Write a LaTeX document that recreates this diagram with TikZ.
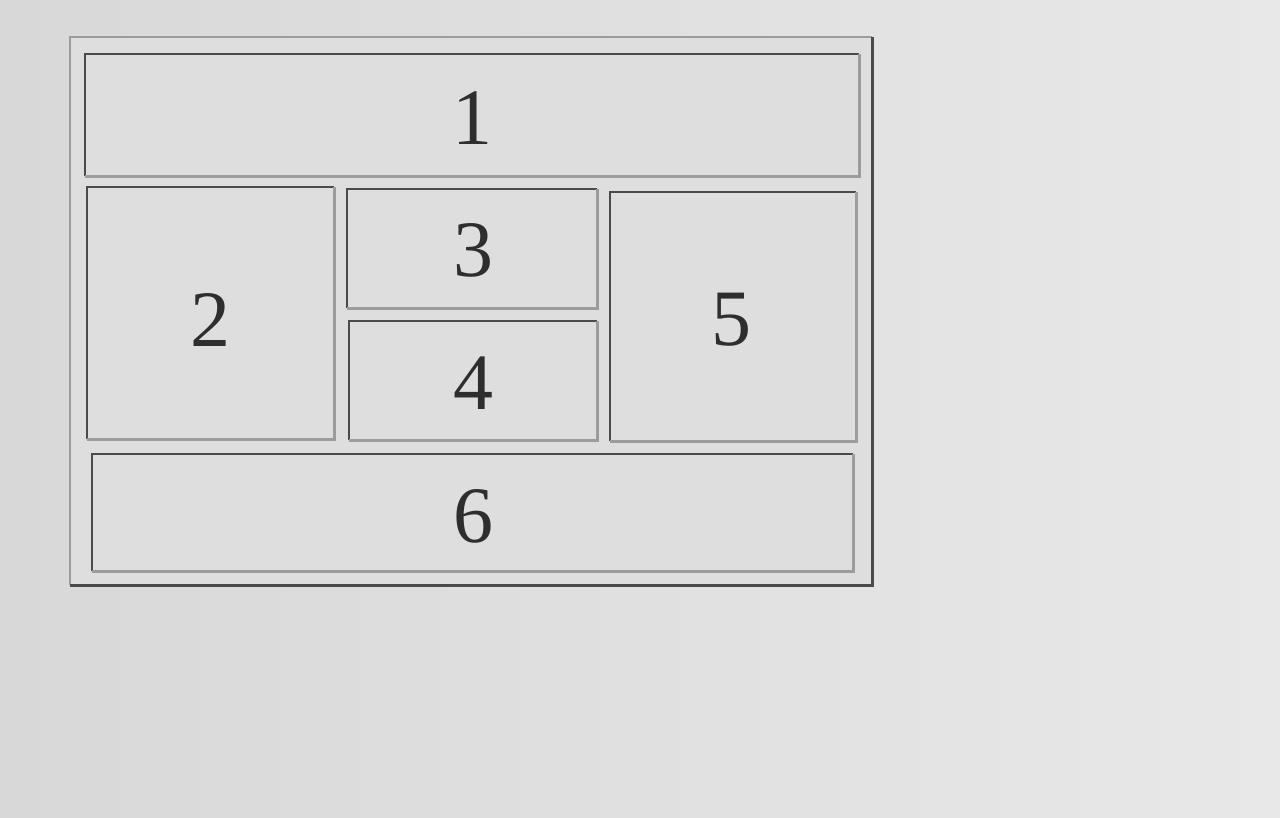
\documentclass[tikz,border=0pt]{standalone}
\usepackage{fontspec}
\setmainfont{Liberation Serif}
\definecolor{bgL}{HTML}{D8D8D8}
\definecolor{bgR}{HTML}{E8E8E8}
\definecolor{cellfill}{HTML}{DEDEDE}
\definecolor{darkline}{HTML}{4A4A4A}
\definecolor{lightline}{HTML}{9C9C9C}
\definecolor{numcol}{HTML}{2E2E2E}
\tikzset{
  cell/.style={rectangle, draw=none, fill=cellfill, inner sep=0pt, anchor=north west},
  dk/.style={draw=darkline, line width=2.6pt},
  lt/.style={draw=lightline, line width=2.4pt},
  num/.style={inner sep=0pt, text=numcol, font=\fontsize{80}{80}\selectfont}
}
\begin{document}
\begin{tikzpicture}[x=1pt,y=-1pt]
\shade[left color=bgL, right color=bgR] (0,0) rectangle (1280,817);
\useasboundingbox (0,0) rectangle (1280,817);
% outer table
\node[cell, minimum width=802pt, minimum height=548pt] (tab) at (70,37) {};
\draw[lt] (tab.south west) -- (tab.north west) -- (tab.north east);
\draw[dk] (tab.north east) -- (tab.south east) -- (tab.south west);
% cells
\node[cell, minimum width=774pt, minimum height=122pt] (c1) at (85,54) {};
\node[cell, minimum width=247pt, minimum height=252pt] (c2) at (87,187) {};
\node[cell, minimum width=250pt, minimum height=119pt] (c3) at (347,189) {};
\node[cell, minimum width=248pt, minimum height=119pt] (c4) at (349,321) {};
\node[cell, minimum width=246pt, minimum height=249pt] (c5) at (610,192) {};
\node[cell, minimum width=761pt, minimum height=117pt] (c6) at (92,454) {};
\foreach \c in {c1,c2,c3,c4,c5,c6}{
  \draw[dk] (\c.south west) -- (\c.north west) -- (\c.north east);
  \draw[lt] (\c.north east) -- (\c.south east) -- (\c.south west);
}
% labels
\node[num] (n1) at (472,118) {1};
\node[num] (n2) at (210,320) {2};
\node[num] (n3) at (473,250) {3};
\node[num] (n4) at (473,383) {4};
\node[num] (n5) at (731,320) {5};
\node[num] (n6) at (473,516) {6};
\end{tikzpicture}
\end{document}
